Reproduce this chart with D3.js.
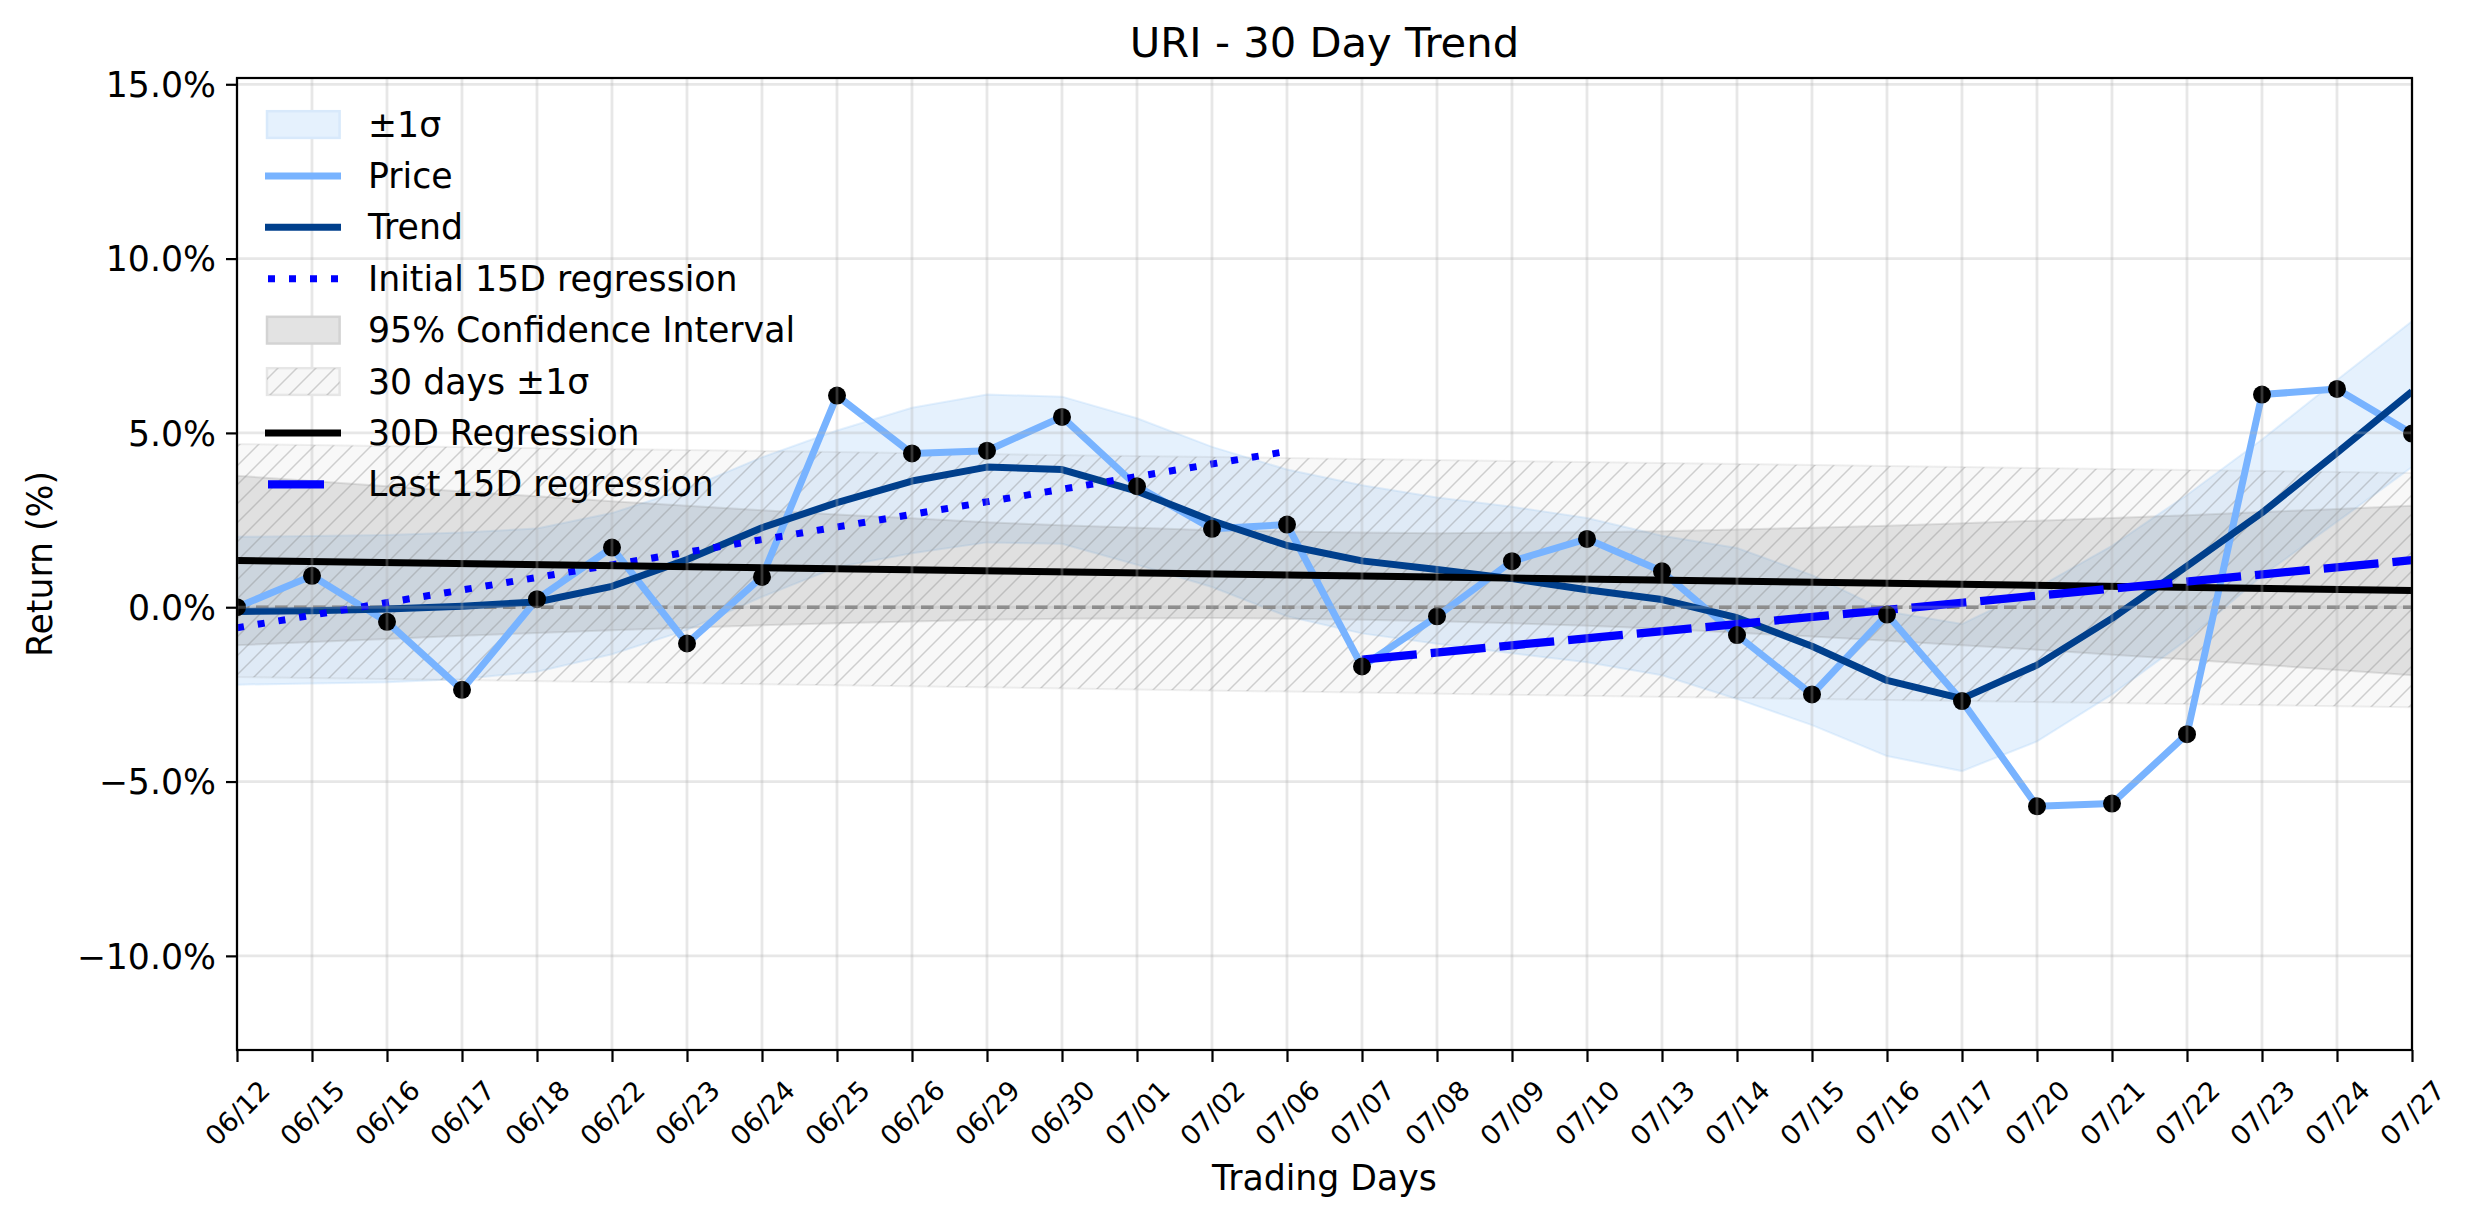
<!DOCTYPE html>
<head>
  <meta charset="utf-8">
  <script src="https://d3js.org/d3.v7.min.js"></script>
  <style>
    body { margin:0; background:#fff; }
    text { font-family: "DejaVu Sans", sans-serif; fill: #000; }
  </style>
</head>

<body>
  <script>
    // ---- data (returns in %) ----
    var dates = ['06/12','06/15','06/16','06/17','06/18','06/22','06/23','06/24','06/25','06/26',
                 '06/29','06/30','07/01','07/02','07/06','07/07','07/08','07/09','07/10','07/13',
                 '07/14','07/15','07/16','07/17','07/20','07/21','07/22','07/23','07/24','07/27'];
    var price = [0.00, 0.90, -0.42, -2.37, 0.23, 1.71, -1.04, 0.87, 6.07, 4.41,
                 4.49, 5.46, 3.47, 2.25, 2.37, -1.70, -0.26, 1.32, 1.96, 1.03,
                 -0.80, -2.50, -0.21, -2.69, -5.71, -5.63, -3.64, 6.10, 6.26, 4.98];
    var trend = [-0.12, -0.10, -0.05, 0.03, 0.15, 0.60, 1.37, 2.28, 3.00, 3.62,
                 4.02, 3.95, 3.33, 2.48, 1.77, 1.33, 1.08, 0.82, 0.50, 0.22,
                 -0.30, -1.12, -2.10, -2.62, -1.66, -0.32, 1.18, 2.71, 4.43, 6.19];
    var sigmaUpper = [2.02, 2.04, 2.07, 2.14, 2.26, 2.70, 3.40, 4.30, 5.07, 5.72,
                      6.10, 6.04, 5.42, 4.60, 3.95, 3.50, 3.15, 2.88, 2.56, 2.05,
                      1.70, 0.92, -0.12, -0.48, 0.55, 1.76, 3.22, 4.81, 6.52, 8.20];
    var sigmaLower = [-2.22, -2.19, -2.15, -2.06, -1.85, -1.35, -0.65, 0.30, 1.15, 1.55,
                      1.86, 1.82, 1.22, 0.58, -0.26, -0.75, -1.05, -1.32, -1.58, -1.95,
                      -2.63, -3.38, -4.27, -4.70, -3.85, -2.50, -0.93, 0.90, 2.45, 4.02];
    var ciUpper = [3.77, 3.62, 3.47, 3.32, 3.18, 3.04, 2.91, 2.78, 2.66, 2.55,
                   2.44, 2.35, 2.28, 2.21, 2.17, 2.14, 2.12, 2.14, 2.15, 2.18,
                   2.23, 2.28, 2.34, 2.41, 2.48, 2.56, 2.64, 2.73, 2.82, 2.91];
    var ciLower = [-1.09, -1.00, -0.91, -0.82, -0.74, -0.66, -0.59, -0.52, -0.46, -0.41,
                   -0.36, -0.33, -0.32, -0.31, -0.33, -0.36, -0.40, -0.46, -0.53, -0.62,
                   -0.73, -0.84, -0.96, -1.09, -1.22, -1.36, -1.50, -1.65, -1.80, -1.95];
    // straight lines: values at first and last day index
    var reg30Days = [0, 29], reg30Values = [1.34, 0.48];
    var band30Upper = [4.68, 3.85], band30Lower = [-2.00, -2.87];
    var initialDays = [0, 14], initialValues = [-0.59, 4.47];
    var lastDays = [15, 29], lastValues = [-1.50, 1.35];
    var yTicks = [-10, -5, 0, 5, 10, 15];
    var legendLabels = ['±1σ', 'Price', 'Trend', 'Initial 15D regression',
                        '95% Confidence Interval', '30 days ±1σ', '30D Regression', 'Last 15D regression'];

    var width = 2474, height = 1224;
    var pLeft = 237, pRight = 2412, pTop = 78, pBottom = 1050;
    var fontMain = '34.7px';

    var svg = d3.select('body').append('svg')
      .attr('width', width)
      .attr('height', height);

    var defs = svg.append('defs');
    defs.append('clipPath').attr('id', 'plotclip')
      .append('rect').attr('x', pLeft).attr('y', pTop)
      .attr('width', pRight - pLeft).attr('height', pBottom - pTop);
    var hatch = defs.append('pattern').attr('id', 'hatch')
      .attr('patternUnits', 'userSpaceOnUse')
      .attr('width', 19).attr('height', 19);
    hatch.append('path')
      .attr('d', 'M0,19 L19,0 M-2,2 L2,-2 M17,21 L21,17')
      .attr('stroke', '#808080').attr('stroke-opacity', 0.35)
      .attr('stroke-width', 1.5);

    var x = d3.scaleLinear().domain([0, 29]).range([pLeft, pRight]);
    var y = d3.scaleLinear().domain([-12.70, 15.18]).range([pBottom, pTop]);
    var idx = d3.range(dates.length);

    var plot = svg.append('g').attr('clip-path', 'url(#plotclip)');

    // ±1σ band
    var sigmaArea = d3.area()
      .x(function(i) { return x(i); })
      .y0(function(i) { return y(sigmaLower[i]); })
      .y1(function(i) { return y(sigmaUpper[i]); });
    plot.append('path').datum(idx)
      .attr('d', sigmaArea)
      .attr('fill', '#a8d0fa').attr('fill-opacity', 0.3)
      .attr('stroke', '#a8d0fa').attr('stroke-opacity', 0.3).attr('stroke-width', 2);

    // 95% CI band
    var ciArea = d3.area()
      .x(function(i) { return x(i); })
      .y0(function(i) { return y(ciLower[i]); })
      .y1(function(i) { return y(ciUpper[i]); });
    plot.append('path').datum(idx)
      .attr('d', ciArea)
      .attr('fill', '#808080').attr('fill-opacity', 0.2)
      .attr('stroke', '#808080').attr('stroke-opacity', 0.2).attr('stroke-width', 2);

    // 30 days ±1σ hatched band
    var bandArea = d3.area()
      .x(function(d, k) { return x(reg30Days[k]); })
      .y0(function(d, k) { return y(band30Lower[k]); })
      .y1(function(d, k) { return y(band30Upper[k]); });
    plot.append('path').datum(reg30Days)
      .attr('d', bandArea)
      .attr('fill', '#808080').attr('fill-opacity', 0.06)
      .attr('stroke', '#808080').attr('stroke-opacity', 0.12).attr('stroke-width', 2);
    plot.append('path').datum(reg30Days)
      .attr('d', bandArea)
      .attr('fill', 'url(#hatch)');

    // grid
    var grid = svg.append('g');
    grid.selectAll('.gx').data(idx).enter().append('line')
      .attr('x1', function(i) { return x(i); }).attr('x2', function(i) { return x(i); })
      .attr('y1', pTop).attr('y2', pBottom);
    grid.selectAll('.gy').data(yTicks).enter().append('line')
      .attr('x1', pLeft).attr('x2', pRight)
      .attr('y1', function(d) { return y(d); }).attr('y2', function(d) { return y(d); });
    grid.selectAll('line')
      .attr('stroke', '#b0b0b0').attr('stroke-opacity', 0.3).attr('stroke-width', 2.8);

    // zero line
    plot.append('line')
      .attr('x1', pLeft).attr('x2', pRight)
      .attr('y1', y(0)).attr('y2', y(0))
      .attr('stroke', '#808080').attr('stroke-width', 3.3)
      .attr('stroke-dasharray', '12.5,6.5');

    var line = d3.line()
      .x(function(i) { return x(i); });

    // price
    plot.append('path').datum(idx)
      .attr('d', line.y(function(i) { return y(price[i]); }))
      .attr('fill', 'none').attr('stroke', '#78b3ff').attr('stroke-width', 7)
      .attr('stroke-linejoin', 'round');

    // trend
    plot.append('path').datum(idx)
      .attr('d', line.y(function(i) { return y(trend[i]); }))
      .attr('fill', 'none').attr('stroke', '#003f8c').attr('stroke-width', 7)
      .attr('stroke-linejoin', 'round');

    var seg = d3.line();
    // initial 15D regression
    plot.append('path')
      .attr('d', seg(initialDays.map(function(d, k) { return [x(d), y(initialValues[k])]; })))
      .attr('fill', 'none').attr('stroke', '#0000ff').attr('stroke-width', 7)
      .attr('stroke-dasharray', '7,14');

    // 30D regression
    plot.append('path')
      .attr('d', seg(reg30Days.map(function(d, k) { return [x(d), y(reg30Values[k])]; })))
      .attr('fill', 'none').attr('stroke', '#000').attr('stroke-width', 7);

    // last 15D regression
    plot.append('path')
      .attr('d', seg(lastDays.map(function(d, k) { return [x(d), y(lastValues[k])]; })))
      .attr('fill', 'none').attr('stroke', '#0000ff').attr('stroke-width', 8.3)
      .attr('stroke-dasharray', '55,14');

    // price markers
    plot.selectAll('.dot').data(idx).enter().append('circle')
      .attr('cx', function(i) { return x(i); })
      .attr('cy', function(i) { return y(price[i]); })
      .attr('r', 9).attr('fill', '#000');

    // axes
    var xAxis = svg.append('g')
      .attr('transform', 'translate(0,' + pBottom + ')')
      .call(d3.axisBottom(x).tickValues(idx)
        .tickFormat(function(i) { return dates[i]; })
        .tickSize(12).tickSizeOuter(0));
    xAxis.selectAll('text')
      .attr('x', 0).attr('y', 0).attr('dy', '0.35em')
      .attr('text-anchor', 'middle')
      .attr('transform', 'translate(0,63) rotate(-45)')
      .style('font-size', '27px');

    var yAxis = svg.append('g')
      .attr('transform', 'translate(' + pLeft + ',0)')
      .call(d3.axisLeft(y).tickValues(yTicks)
        .tickFormat(function(d) { return d3.format('.1f')(d) + '%'; })
        .tickSize(11).tickPadding(10).tickSizeOuter(0));
    yAxis.selectAll('text').style('font-size', fontMain).attr('dy', '0.35em');

    svg.selectAll('.domain').remove();
    svg.selectAll('.tick line').attr('stroke', '#000').attr('stroke-width', 2.2);
    svg.selectAll('.tick text').attr('fill', '#000');

    // spines
    svg.append('rect')
      .attr('x', pLeft).attr('y', pTop)
      .attr('width', pRight - pLeft).attr('height', pBottom - pTop)
      .attr('fill', 'none').attr('stroke', '#000').attr('stroke-width', 2.2);

    // titles
    svg.append('text')
      .attr('x', (pLeft + pRight) / 2).attr('y', 57)
      .attr('text-anchor', 'middle').style('font-size', '41.7px')
      .text('URI - 30 Day Trend');
    svg.append('text')
      .attr('x', (pLeft + pRight) / 2).attr('y', 1190)
      .attr('text-anchor', 'middle').style('font-size', fontMain)
      .text('Trading Days');
    svg.append('text')
      .attr('transform', 'translate(52,' + (pTop + pBottom) / 2 + ') rotate(-90)')
      .attr('text-anchor', 'middle').style('font-size', fontMain)
      .text('Return (%)');

    // legend
    var legend = svg.append('g');
    legendLabels.forEach(function(label, k) {
      var cy = 124.5 + 51.4 * k;
      var g = legend.append('g');
      if (k === 0 || k === 4 || k === 5) {
        var r = g.append('rect')
          .attr('x', 267).attr('y', cy - 13.3)
          .attr('width', 72.6).attr('height', 26.7)
          .attr('stroke-width', 2.5);
        if (k === 0) r.attr('fill', '#e5f1fd').attr('stroke', '#d8e9fb');
        if (k === 4) r.attr('fill', '#e3e3e3').attr('stroke', '#d3d3d3');
        if (k === 5) {
          r.attr('fill', '#f7f7f7').attr('stroke', '#e6e6e6');
          g.append('rect')
            .attr('x', 267).attr('y', cy - 13.3)
            .attr('width', 72.6).attr('height', 26.7)
            .attr('fill', 'url(#hatch)');
        }
      } else {
        var l = g.append('line')
          .attr('x1', 265).attr('x2', 341)
          .attr('y1', cy).attr('y2', cy)
          .attr('stroke-width', 7);
        if (k === 1) l.attr('stroke', '#78b3ff');
        if (k === 2) l.attr('stroke', '#003f8c');
        if (k === 3) l.attr('stroke', '#0000ff').attr('stroke-dasharray', '7,14').attr('x1', 268);
        if (k === 6) l.attr('stroke', '#000');
        if (k === 7) l.attr('stroke', '#0000ff').attr('stroke-width', 8.3)
          .attr('x1', 268).attr('x2', 324);
      }
      g.append('text')
        .attr('x', 368).attr('y', cy).attr('dy', '0.35em')
        .style('font-size', fontMain)
        .text(label);
    });
  </script>
</body>
